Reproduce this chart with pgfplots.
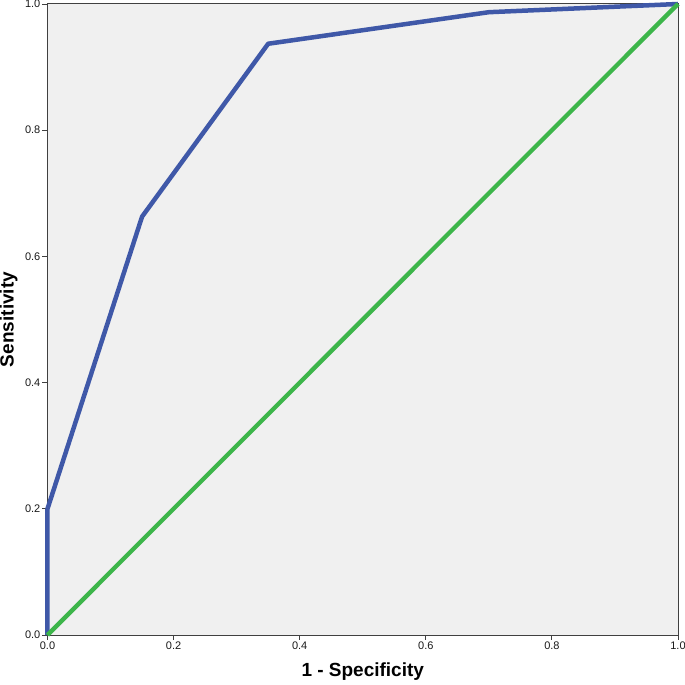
\documentclass[border=0pt]{standalone}
\usepackage{fontspec}
\setmainfont{Liberation Sans}
\usepackage{pgfplots}
\pgfplotsset{compat=1.18}
\definecolor{roc}{HTML}{3F58A8}
\definecolor{ref}{HTML}{3DB54A}
\definecolor{bg}{HTML}{F0F0F0}
\begin{document}
\begin{tikzpicture}
\begin{axis}[
  name=ax,
  scale only axis,
  width=630.5pt, height=631pt,
  xmin=0, xmax=1, ymin=0, ymax=1,
  xtick={0,0.2,0.4,0.6,0.8,1.0},
  ytick={0,0.2,0.4,0.6,0.8,1.0},
  xticklabel style={/pgf/number format/.cd, fixed, fixed zerofill, precision=1},
  yticklabel style={/pgf/number format/.cd, fixed, fixed zerofill, precision=1},
  /pgf/number format/assume math mode=true,
  ticklabel style={font=\fontsize{11}{13}\selectfont, text=black!90, inner sep=2pt},
  tick pos=left,
  tick align=outside,
  major tick length=5pt,
  tick style={black!75, line width=0.9pt},
  axis line style={black!75, line width=1pt},
  axis background/.style={fill=bg},
  xlabel={1 - Specificity},
  ylabel={Sensitivity},
  label style={font=\fontsize{19}{22}\selectfont\bfseries},
  xlabel style={at={(axis description cs:0.5,-0.0586)}, anchor=center},
  ylabel style={at={(axis description cs:-0.0615,0.5)}, anchor=center},
  clip=false,
]
\addplot[roc, line width=4.5pt, line join=round] coordinates {
  (0,0) (0,0.2) (0.15,0.663) (0.35,0.937) (0.7,0.987) (1,1)
};
\addplot[ref, line width=4.3pt] coordinates {(0,0) (1,1)};
\end{axis}
\pgfresetboundingbox
\path ([shift={(-47.5pt,-50pt)}]ax.south west) rectangle ([shift={(7pt,4pt)}]ax.north east);
\end{tikzpicture}
\end{document}
